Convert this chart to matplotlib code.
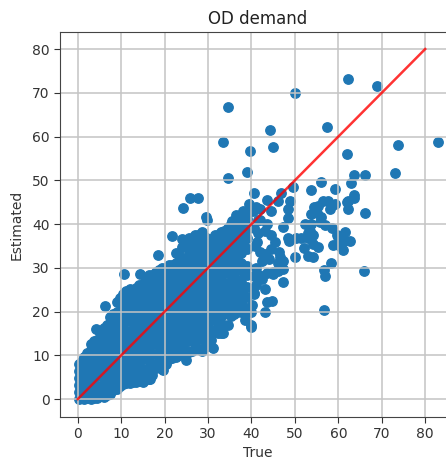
import matplotlib
matplotlib.use("Agg")
import matplotlib.pyplot as plt

# Dense cloud, column by column: true value -> estimated values
col_true = [0.2, 1.5, 3, 4.5, 6, 7.5, 9, 10.5, 12, 13.5, 15, 16.5, 18, 19.5, 21, 22.5, 24, 25.5, 27, 28.5, 30, 31.5, 33, 34.5, 36, 37.5, 39]
col_est = [
    [0.1, 1.6, 3.2, 4.8, 6.4, 8.0],
    [0, 1.2, 2.7, 4.6, 6.5, 8.4, 9.6],
    [0, 1.9, 3.8, 5.7, 7.6, 9.5, 11.2, 12.6],
    [0.2, 1.1, 3.1, 5.2, 7.3, 9.4, 11.5, 13.4],
    [0.5, 2.6, 4.8, 7.0, 9.2, 11.4, 13.6, 15.4, 16.2],
    [1.2, 2.1, 4.1, 6.3, 8.5, 10.7, 12.9, 15.1, 17.3, 18.8],
    [2.4, 4.4, 6.6, 8.8, 11, 13.2, 15.4, 17.6, 19.8, 22.2],
    [3.4, 5.4, 7.6, 9.8, 12, 14.2, 16.4, 18.6, 20.8, 23.0, 24.0],
    [3.6, 4.6, 6.8, 9.0, 11.2, 13.4, 15.6, 17.8, 20, 22.2, 24.4, 25.2],
    [3.8, 5.6, 7.8, 10, 12.2, 14.4, 16.6, 18.8, 21, 23.2, 25.4],
    [4.0, 4.8, 6.9, 9.1, 11.3, 13.5, 15.7, 17.9, 20.1, 22.3, 24.5, 26.4],
    [4.6, 6.8, 9.0, 11.2, 13.4, 15.6, 17.8, 20, 22.2, 24.4, 26.6, 28.4],
    [7.0, 8.1, 10.3, 12.5, 14.7, 16.9, 19.1, 21.3, 23.5, 25.7, 27.9, 29.0],
    [6.8, 9.2, 11.4, 13.6, 15.8, 18, 20.2, 22.4, 24.6, 26.8, 29, 30],
    [9.2, 10.3, 12.5, 14.7, 16.9, 19.1, 21.3, 23.5, 25.7, 27.9, 30.1, 30.6],
    [9.6, 11.4, 13.6, 15.8, 18, 20.2, 22.4, 24.6, 26.8, 29, 31.2, 33.4],
    [10.2, 12.5, 14.7, 16.9, 19.1, 21.3, 23.5, 25.7, 27.9, 30.1, 32, 34.8, 36.6],
    [10.8, 13.6, 15.8, 18, 20.2, 22.4, 24.6, 26.8, 29, 31.2, 33.4, 35, 36.8],
    [11.6, 12.7, 14.9, 17.1, 19.3, 21.5, 23.7, 25.9, 28.1, 30.3, 32.5, 34.7, 37.4],
    [11, 13.8, 16, 18.2, 20.4, 22.6, 24.8, 27, 29.2, 31.4, 33.6, 35.8, 38.2],
    [12.4, 14.9, 17.1, 19.3, 21.5, 23.7, 25.9, 28.1, 30.3, 32.5, 34.7, 36.4],
    [15.5, 18, 20.2, 22.4, 24.6, 26.8, 29, 31.2, 33.4, 35.6, 37.4],
    [16, 19.1, 21.3, 23.5, 25.7, 27.9, 30.1, 32.3, 34.5, 36.7, 38.2],
    [17, 20, 22.2, 24.4, 26.6, 28.8, 31, 33.2, 35.4, 37.6, 39.2],
    [19.5, 21.1, 23.3, 25.5, 27.7, 29.9, 32.1, 34.3, 36.5, 38.7, 40.7],
    [20, 22.2, 24.4, 26.8, 29.4, 31, 33.4, 35.6, 37.8, 40, 41.6],
    [20, 23.3, 25.6, 28.4, 30.4, 34.4, 36.7, 38.9, 41.1, 42.4],
]

# Second pass of the dense cloud, between the columns above
fill_true = [0.9, 2.2, 3.7, 5.2, 6.7, 8.2, 9.7, 11.2, 12.7, 14.2, 15.7, 17.2, 18.7, 20.2, 21.7, 23.2, 24.7, 26.2, 27.7, 29.2, 30.7, 32.2, 33.7, 35.2, 36.7, 38.2]
fill_est = [
    [0.4, 2.4, 4, 5.6, 7.2, 8.6],
    [0.3, 2.8, 5.2, 7.6, 10.5],
    [0.2, 2.6, 5, 7.4, 9.8, 12.2, 13.2],
    [0.6, 3, 5.4, 7.8, 10.2, 12.6, 15],
    [1, 3.4, 5.8, 8.2, 10.6, 13, 15.4, 17],
    [2, 4.6, 7, 9.4, 11.8, 14.2, 16.6, 19.5],
    [3, 5.4, 7.8, 10.2, 12.6, 15, 17.4, 19.8, 23],
    [3.6, 6, 8.4, 10.8, 13.2, 15.6, 18, 20.4, 22.8, 24.6],
    [3.8, 6.2, 8.6, 11, 13.4, 15.8, 18.2, 20.6, 23, 25],
    [4.2, 6.6, 9, 11.4, 13.8, 16.2, 18.6, 21, 23.4, 26],
    [4.5, 6.9, 9.3, 11.7, 14.1, 16.5, 18.9, 21.3, 23.7, 26.1, 27.5],
    [5.5, 7.9, 10.3, 12.7, 15.1, 17.5, 19.9, 22.3, 24.7, 27.1, 28.4],
    [7.5, 9.9, 12.3, 14.7, 17.1, 19.5, 21.9, 24.3, 26.7, 29.5],
    [8, 10.4, 12.8, 15.2, 17.6, 20, 22.4, 24.8, 27.2, 30],
    [9.4, 11.8, 14.2, 16.6, 19, 21.4, 23.8, 26.2, 28.6, 30.6],
    [10, 12.4, 14.8, 17.2, 19.6, 22, 24.4, 26.8, 29.2, 33],
    [10.5, 12.9, 15.3, 17.7, 20.1, 22.5, 24.9, 27.3, 29.7, 32.1, 35.5],
    [11, 13.4, 15.8, 18.2, 20.6, 23, 25.4, 27.8, 30.2, 32.6, 36.5],
    [11.5, 13.9, 16.3, 18.7, 21.1, 23.5, 25.9, 28.3, 30.7, 33.1, 35.5, 37.5],
    [12, 14.4, 16.8, 19.2, 21.6, 24, 26.4, 28.8, 31.2, 33.6, 37],
    [13.5, 15.9, 18.3, 20.7, 23.1, 25.5, 27.9, 30.3, 32.7, 35.1, 36.5],
    [15, 17.4, 19.8, 22.2, 24.6, 27, 29.4, 31.8, 34.2, 37.5],
    [17, 19.4, 21.8, 24.2, 26.6, 29, 31.4, 33.8, 36.2, 38.5],
    [19, 21.4, 23.8, 26.2, 28.6, 31, 33.4, 35.8, 38.2, 40],
    [20, 22.4, 24.8, 27.2, 29.6, 32, 34.4, 36.8, 39.2, 41],
    [21, 23.4, 28.6, 30.4, 35.2, 37.6, 40, 41.5],
]

# Scattered points read individually
true_sparse = [34.7, 50.1, 62.3, 68.9, 44.2, 57.3, 33.4, 39.6, 44.9, 73.7, 82.9, 61.9, 34.7, 38.9, 63.6, 66.2, 73.1, 62.9, 56.0, 49.5,
               59.2, 53.7, 40.6, 46.7, 43.6, 48.9, 63.5, 56.4, 57.7, 61.9, 46.1, 48.3, 44.5, 48.4, 47.3, 40.3, 41.9, 37.2, 35.5, 41.5,
               41.5, 43, 44.5, 45.5, 44.6, 42, 41.2, 43.2, 40.8, 42.5, 44, 40.5, 48.6, 48.4, 50.1, 46.5, 47.3, 46.1, 47.3, 45.0, 43.5,
               41.8, 40.5, 47.2, 43, 40.6, 44.7, 43.6, 43, 40.1, 40, 40, 33.5, 56.7, 65.9, 57, 56.7, 58.3, 53, 54.2, 55.4, 54.2, 53,
               51.5, 50.3, 53.4, 52.3, 53.8, 55.7, 58.5, 57, 53.8, 55, 55.4, 59.2, 62.3, 63.5, 62.3, 66.2, 61.5, 59.6, 62.7, 61.2, 60.4,
               58.8, 10.6, 14.3, 18.5, 24.3, 29.5, 29.7, 6.3, 4.3, 19.6, 25, 31.2, 33, 30, 21.7, 25.9, 27.6, 16.7,
               42.5, 45, 46, 41, 41, 40.5, 42, 43.5, 46.4, 41, 39.5, 38, 36.5, 35, 38.5, 40, 52, 53, 54.2, 56, 58, 60, 61, 54.5]
est_sparse = [66.7, 70, 73.2, 71.5, 61.6, 62.2, 58.7, 56.7, 57.7, 58, 58.7, 56.1, 50.6, 51.9, 51.3, 51.3, 51.6, 49.3, 49.6, 48.4,
              48.1, 47.7, 47.1, 47.1, 45.5, 45.2, 46.6, 45.3, 45.3, 45, 45.3, 43.5, 43, 41.3, 39.4, 43, 43.4, 41.9, 40.7, 41,
              38, 38.4, 37.6, 36, 34.4, 33.6, 36, 33.2, 35, 31.5, 32, 39, 36.2, 36.8, 32.4, 32.4, 31.6, 29.3, 29.7, 29, 28.8,
              28.4, 28.2, 26.7, 25.2, 24.2, 22.5, 22.1, 20, 21.4, 19.9, 16.4, 15.1, 20.3, 29.3, 28.2, 29.5, 31.2, 32.6, 32.4, 34.7, 35.4, 36.9,
              36.9, 36.9, 38.5, 40, 40, 40.4, 39.2, 39.8, 42.3, 42.6, 44.2, 44.5, 45.3, 46, 43.4, 42.6, 38.1, 37.5, 36.2, 36.2, 35,
              35.2, 28.7, 28.7, 32.9, 43.6, 41.7, 41, 21.3, 16.1, 6.7, 8.9, 11.7, 15, 15.3, 37.3, 46, 46, 4.5,
              27.5, 28.5, 31, 30, 26, 24, 41, 40, 33.6, 44, 44.5, 43, 42, 38.5, 18, 17, 34.5, 38, 37.5, 41.5, 43.5, 37, 34, 44]

line_true = [0, 80]
line_est = [0, 80]
ticks = [0, 10, 20, 30, 40, 50, 60, 70, 80]

plt.rcParams["font.family"] = "DejaVu Sans"
fig = plt.figure(figsize=(4.46, 4.59), dpi=100)
W, H = 446, 459
ax = fig.add_axes([60 / W, 1 - 417 / H, (456 - 60) / W, (417 - 32) / H])

xs = [t for t, col in zip(col_true, col_est) for _ in col]
ys = [v for col in col_est for v in col]
xs += [t for t, col in zip(fill_true, fill_est) for _ in col]
ys += [v for col in fill_est for v in col]
xs += true_sparse
ys += est_sparse
ax.scatter(xs, ys, s=46, color="#1f77b4", linewidths=1.0, edgecolors="#1f77b4")
ax.plot(line_true, line_est, color="red", alpha=0.8, linewidth=1.8)

ax.set_xlim(-4.1, 87.1)
ax.set_ylim(-4.1, 83.9)
ax.set_xticks(ticks)
ax.set_yticks(ticks)
ax.grid(True, color="#c4c4c4", linewidth=1.1)
ax.tick_params(labelsize=10, colors="#333333", length=4)
for s in ax.spines.values():
    s.set_color("#444444")
ax.set_title("OD demand", fontsize=12, color="#222222", pad=6)
ax.set_xlabel("True", fontsize=10, color="#333333", labelpad=3)
ax.set_ylabel("Estimated", fontsize=10, color="#333333", labelpad=6)
fig.savefig("out.png", dpi=100)
